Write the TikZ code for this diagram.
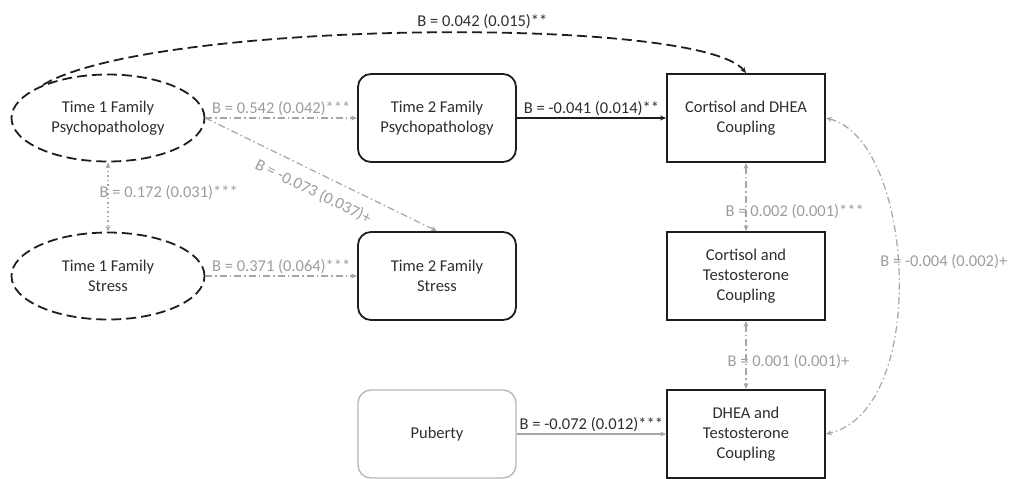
\documentclass[tikz,border=0pt]{standalone}
\usepackage{fontspec}
\setmainfont{Carlito}
\usetikzlibrary{arrows.meta,shapes.geometric,calc}
\definecolor{txt}{HTML}{2E2E2E}
\definecolor{lbl}{HTML}{9C9C9C}
\definecolor{ln}{HTML}{A6A6A6}
\definecolor{edge}{HTML}{1E1E1E}
\begin{document}
\begin{tikzpicture}[x=1pt,y=-1pt,
  font=\fontsize{16.5}{20}\selectfont,
  >={Stealth[length=6pt,width=5pt]},
  latent/.style={ellipse, draw=edge, dash pattern=on 10pt off 5pt, line width=1.8pt,
    minimum width=193pt, minimum height=87pt, inner sep=0pt, text=txt, align=center},
  rbox/.style={rectangle, rounded corners=13pt, draw=edge, line width=1.8pt,
    minimum width=158pt, minimum height=88pt, text=txt, align=center},
  sbox/.style={rectangle, draw=edge, line width=1.8pt,
    minimum width=158pt, minimum height=88pt, text=txt, align=center},
  pbox/.style={rectangle, rounded corners=13pt, draw=ln!80, line width=1.4pt,
    minimum width=158pt, minimum height=88pt, text=txt, align=center},
  glabel/.style={text=lbl, inner sep=2pt},
  dlabel/.style={text=txt, inner sep=2pt},
  garrow/.style={draw=ln, line width=1.2pt, dash pattern=on 7pt off 3pt on 1.5pt off 3pt},
  dotarrow/.style={draw=ln, line width=1.2pt, dash pattern=on 1.5pt off 3pt},
  topconn/.style={draw=edge, line width=1.8pt, dash pattern=on 10pt off 5pt},
  solidarrow/.style={draw=edge, line width=1.4pt},
  pubarrow/.style={draw=ln, line width=1.3pt}
]
\useasboundingbox (0,0) rectangle (1021,479);

% nodes
\node[latent] (t1p) at (108,118) {Time 1 Family\\Psychopathology};
\node[latent] (t1s) at (108,276) {Time 1 Family\\Stress};
\node[rbox] (t2p) at (437,118) {Time 2 Family\\Psychopathology};
\node[rbox] (t2s) at (437,276) {Time 2 Family\\Stress};
\node[sbox] (cd) at (746,118) {Cortisol and DHEA\\Coupling};
\node[sbox] (ct) at (746,276) {Cortisol and\\Testosterone\\Coupling};
\node[sbox] (dt) at (746,434) {DHEA and\\Testosterone\\Coupling};
\node[pbox] (pub) at (437,434) {Puberty};

% connectors
\draw[topconn,->] (t1p.153) .. controls (150,20) and (700,15) .. (cd.north)
  node[pos=0.57, above=1pt, dlabel] {B = 0.042 (0.015)**};

\draw[garrow,->] (t1p.east) -- node[above, glabel] {B = 0.542 (0.042)***} (t2p.west);
\draw[garrow,->] (t1p.east) -- (t2s.north);
\node[glabel, rotate=-26] (diaglab) at ($(t1p.east)!0.5!(t2s.north)+(-8,17)$) {B = -0.073 (0.037)+};
\draw[garrow,->] (t1s.east) -- node[above, glabel] {B = 0.371 (0.064)***} (t2s.west);
\draw[dotarrow,<->] (t1p.south) -- node[pos=0.44, anchor=west, xshift=-11pt, glabel] {B = 0.172 (0.031)***} (t1s.north);

\draw[solidarrow,->] (t2p.east) -- node[above, dlabel] {B = -0.041 (0.014)**} (cd.west);

\draw[garrow,<->] (cd.south) -- node[pos=0.71, anchor=west, xshift=-23pt, glabel] {B = 0.002 (0.001)***} (ct.north);
\draw[garrow,<->] (ct.south) -- node[pos=0.6, anchor=west, xshift=-21pt, glabel] {B = 0.001 (0.001)+} (dt.north);
\draw[garrow,<->] (cd.east) .. controls (915,140) and (930,410) .. (dt.east)
  node[pos=0.47, anchor=west, xshift=-20pt, glabel] {B = -0.004 (0.002)+};

\draw[pubarrow,->] (pub.east) -- node[above, dlabel] {B = -0.072 (0.012)***} (dt.west);
\end{tikzpicture}
\end{document}
